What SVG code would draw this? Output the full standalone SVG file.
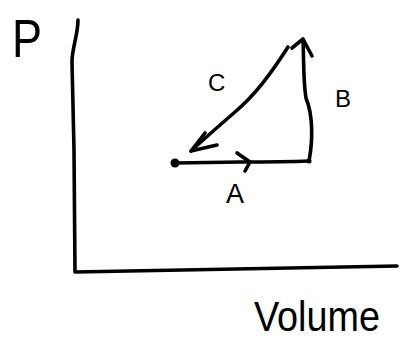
<svg xmlns="http://www.w3.org/2000/svg" width="408" height="355" viewBox="0 0 408 355">
<style>
.ln{fill:none;stroke:#000;stroke-width:3.6;stroke-linecap:round;stroke-linejoin:round}
.lb{font-family:"Liberation Sans",Arial,sans-serif;fill:#000}
</style>
<rect width="408" height="355" fill="#fff"/>
<g id="axes">
<path class="ln" d="M78,20 C78,35 72,48 72,62 L74,150 L75,272 C150,270 250,268 397,266"/>
<text class="lb" x="12" y="57" font-size="54" textLength="30" lengthAdjust="spacingAndGlyphs">P</text>
<text class="lb" x="254" y="331" font-size="42" textLength="126" lengthAdjust="spacingAndGlyphs">Volume</text>
</g>
<g id="point-start"><circle cx="175" cy="163" r="4.5" fill="#000"/></g>
<g id="point-corner"><circle cx="309" cy="161" r="2.5" fill="#000"/></g>
<g id="connectors">
<g id="path-A">
<path class="ln" d="M175,163 L240,162 C270,162 285,162 309,161"/>
<path class="ln" d="M237,153 L250,162 L245,171"/>
<text class="lb" x="226" y="203" font-size="27">A</text>
</g>
<g id="path-B">
<path class="ln" d="M309,161 C313,140 313,115 306,98 C303,80 304,60 303,40"/>
<path class="ln" d="M292,48 L303,39 L312,56"/>
<text class="lb" x="335" y="107" font-size="24">B</text>
</g>
<g id="path-C">
<path class="ln" d="M288,47 C270,75 255,95 235,112 C220,125 205,138 191,151"/>
<path class="ln" d="M205,133 L191,151 L217,145"/>
<text class="lb" x="208" y="91" font-size="24">C</text>
</g>
</g>
</svg>
